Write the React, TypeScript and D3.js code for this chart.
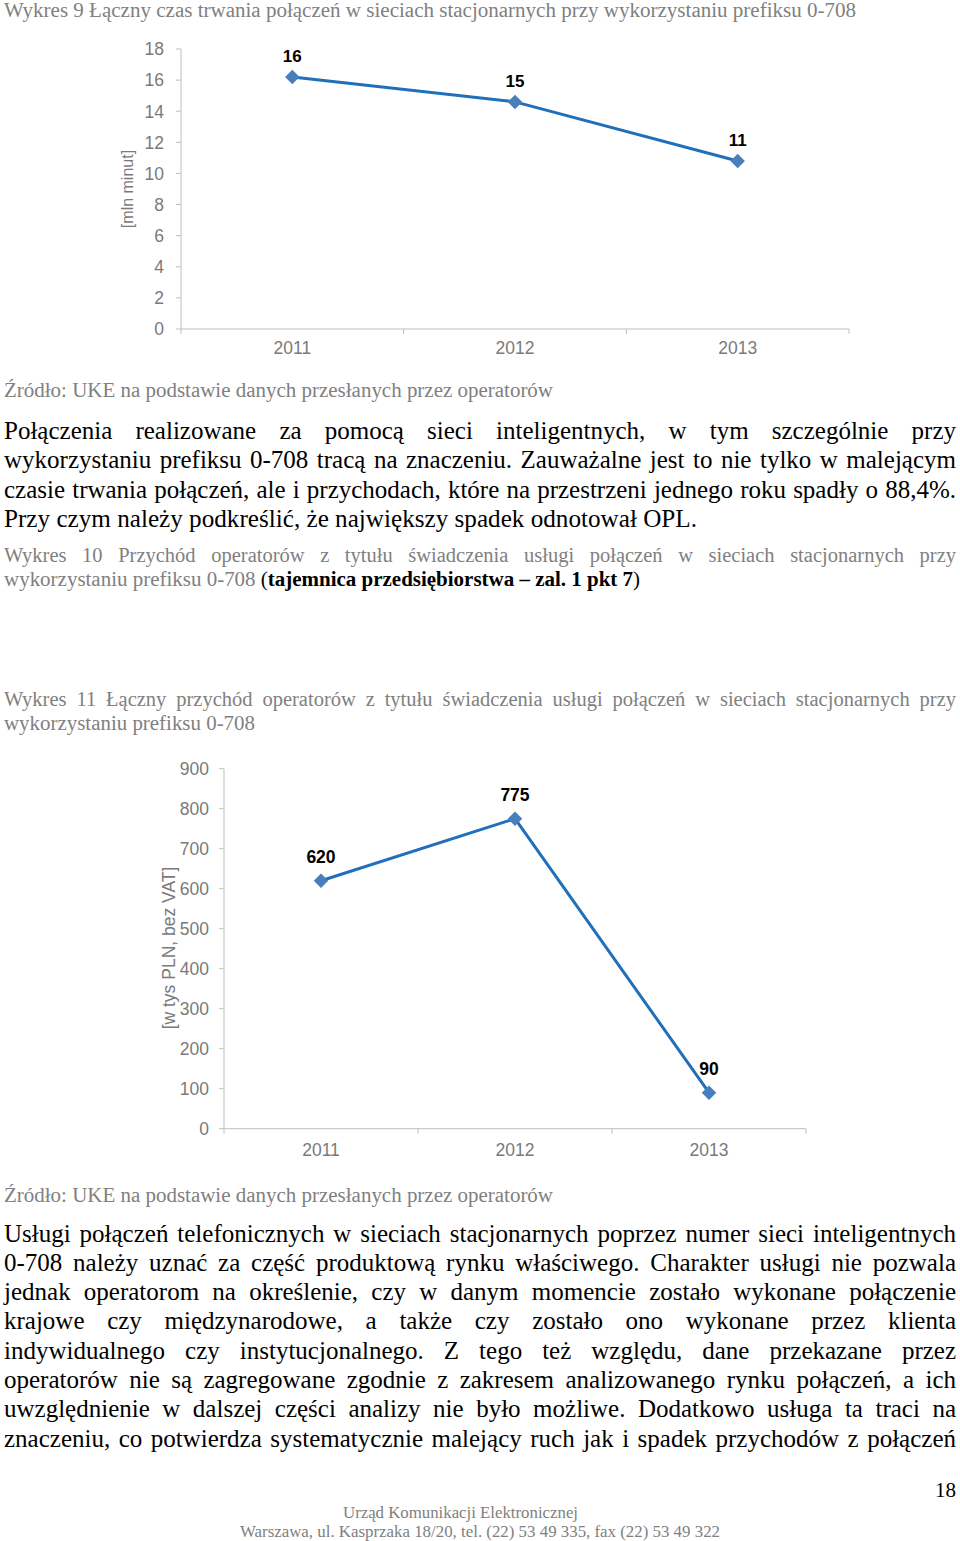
import React from 'react';
import * as d3 from 'd3';

// ---------- data ----------
const years = ['2011', '2012', '2013'];
const durationValues = [16.2, 14.6, 10.8]; // mln minut
const durationTicks = [0, 2, 4, 6, 8, 10, 12, 14, 16, 18];
const revenueValues = [620, 775, 90]; // tys PLN
const revenueTicks = [0, 100, 200, 300, 400, 500, 600, 700, 800, 900];

const caption9 = 'Wykres 9 Łączny czas trwania połączeń w sieciach stacjonarnych przy wykorzystaniu prefiksu 0-708';
const sourceText = 'Źródło: UKE na podstawie danych przesłanych przez operatorów';
const para1Lines = [
  'Połączenia realizowane za pomocą sieci inteligentnych, w tym szczególnie przy',
  'wykorzystaniu prefiksu 0-708 tracą na znaczeniu. Zauważalne jest to nie tylko w malejącym',
  'czasie trwania połączeń, ale i przychodach, które na przestrzeni jednego roku spadły o 88,4%.',
  'Przy czym należy podkreślić, że największy spadek odnotował OPL.',
];
const caption10Line1 = 'Wykres 10 Przychód operatorów z tytułu świadczenia usługi połączeń w sieciach stacjonarnych przy';
const caption10Line2 = 'wykorzystaniu prefiksu 0-708 ';
const caption10Secret = 'tajemnica przedsiębiorstwa – zal. 1 pkt 7';
const caption11Lines = [
  'Wykres 11 Łączny przychód operatorów z tytułu świadczenia usługi połączeń w sieciach stacjonarnych przy',
  'wykorzystaniu prefiksu 0-708',
];
const para2Lines = [
  'Usługi połączeń telefonicznych w sieciach stacjonarnych poprzez numer sieci inteligentnych',
  '0-708 należy uznać za część produktową rynku właściwego. Charakter usługi nie pozwala',
  'jednak operatorom na określenie, czy w danym momencie zostało wykonane połączenie',
  'krajowe czy międzynarodowe, a także czy zostało ono wykonane przez klienta',
  'indywidualnego czy instytucjonalnego. Z tego też względu, dane przekazane przez',
  'operatorów nie są zagregowane zgodnie z zakresem analizowanego rynku połączeń, a ich',
  'uwzględnienie w dalszej części analizy nie było możliwe. Dodatkowo usługa ta traci na',
  'znaczeniu, co potwierdza systematycznie malejący ruch jak i spadek przychodów z połączeń',
];
const footerLines = [
  'Urząd Komunikacji Elektronicznej',
  'Warszawa, ul. Kasprzaka 18/20, tel. (22) 53 49 335, fax (22) 53 49 322',
];
const pageNumber = '18';

// ---------- styles ----------
const SERIF = '"Liberation Serif", "Times New Roman", serif';
const SANS = '"Liberation Sans", Arial, sans-serif';
const GRAY = '#808080';
const AXIS = '#bfbfbf';
const TICK_TEXT = '#7a7a7a';
const LINE_COLOR = '#1f6fba';
const MARKER_COLOR = '#4a7ebb';

let ctx: CanvasRenderingContext2D | null = null;
function measure(text: string, font: string): number {
  if (!ctx) ctx = document.createElement('canvas').getContext('2d');
  if (!ctx) return text.length * 10;
  ctx.font = font;
  return ctx.measureText(text).width;
}

function JustifiedLine({ text, x, y, width, size, fill }: any) {
  const words = text.split(' ');
  const font = `${size}px ${SERIF}`;
  const widths = words.map((w: string) => measure(w, font));
  const total = widths.reduce((a: number, b: number) => a + b, 0);
  const gap = words.length > 1 ? (width - total) / (words.length - 1) : 0;
  let cx = x;
  const xs = widths.map((w: number) => {
    const p = cx;
    cx += w + gap;
    return p;
  });
  return (
    <text y={y} fontFamily={SERIF} fontSize={size} fill={fill}>
      {words.map((w: string, i: number) => (
        <tspan key={i} x={xs[i]}>{w}</tspan>
      ))}
    </text>
  );
}

function FitLine({ text, x, y, width, size, fill, anchor }: any) {
  return (
    <text x={x} y={y} fontFamily={SERIF} fontSize={size} fill={fill}
      textLength={width} lengthAdjust="spacingAndGlyphs" textAnchor={anchor || 'start'}>
      {text}
    </text>
  );
}

const diamond = d3.symbol().type(d3.symbolSquare).size(105)();

function LineChart({ values, ticks, xRange, yRange, yMax, tickOffset, tickFont, labelFont,
  labelOffset, yTitle, yTitlePos, yTitleSize, xLabelOffset }: any) {
  const x = d3.scaleBand<string>().domain(years).range(xRange);
  const y = d3.scaleLinear().domain([0, yMax]).range(yRange);
  const line = d3.line<number>()
    .x((_, i) => (x(years[i]) as number) + x.bandwidth() / 2)
    .y((d) => y(d));
  const fmt = d3.format('.0f');
  const x0 = xRange[0];
  const boundaries = years.map((yr) => x(yr) as number).concat([xRange[1]]);
  return (
    <g>
      {/* y axis */}
      <line x1={x0} x2={x0} y1={y(yMax)} y2={y(0)} stroke={AXIS} strokeWidth={1} />
      {ticks.map((t: number) => (
        <g key={t}>
          <line x1={x0 - 5} x2={x0} y1={y(t)} y2={y(t)} stroke={AXIS} strokeWidth={1} />
          <text x={x0 - tickOffset} y={y(t)} dy="0.36em" textAnchor="end"
            fontFamily={SANS} fontSize={tickFont} fill={TICK_TEXT}>{t}</text>
        </g>
      ))}
      {/* x axis */}
      <line x1={xRange[0]} x2={xRange[1]} y1={y(0)} y2={y(0)} stroke={AXIS} strokeWidth={1} />
      {boundaries.map((b: number, i: number) => (
        <line key={i} x1={b} x2={b} y1={y(0)} y2={y(0) + 5} stroke={AXIS} strokeWidth={1} />
      ))}
      {years.map((yr) => (
        <text key={yr} x={(x(yr) as number) + x.bandwidth() / 2} y={y(0) + xLabelOffset}
          textAnchor="middle" fontFamily={SANS} fontSize={tickFont} fill={TICK_TEXT}>{yr}</text>
      ))}
      {/* y title */}
      <text transform={`translate(${yTitlePos[0]},${yTitlePos[1]}) rotate(-90)`} textAnchor="middle"
        dy="0.35em" fontFamily={SANS} fontSize={yTitleSize} fill={TICK_TEXT}>{yTitle}</text>
      {/* series */}
      <path d={line(values) || ''} fill="none" stroke={LINE_COLOR} strokeWidth={3} strokeLinejoin="round" />
      {values.map((v: number, i: number) => {
        const cx = (x(years[i]) as number) + x.bandwidth() / 2;
        return (
          <g key={i}>
            <path d={diamond} transform={`translate(${cx},${y(v)}) rotate(45)`} fill={MARKER_COLOR} />
            <text x={cx} y={y(v) - labelOffset} textAnchor="middle" fontFamily={SANS}
              fontWeight="bold" fontSize={labelFont} fill="#000">{fmt(v)}</text>
          </g>
        );
      })}
    </g>
  );
}

export default function App() {
  const BODY = 25;
  const CAP = 20.5;
  return (
    <svg width={960} height={1541} style={{ position: 'absolute', left: 0, top: 0, background: '#fff' }}>
      <rect width={960} height={1541} fill="#fff" />
      <FitLine text={caption9} x={4} y={17} width={852} size={CAP} fill={GRAY} />

      <LineChart values={durationValues} ticks={durationTicks} xRange={[181, 849]} yRange={[329, 49]}
        yMax={18} tickOffset={17} tickFont={17.5} labelFont={17} labelOffset={15}
        yTitle="[mln minut]" yTitlePos={[127, 189]} yTitleSize={16} xLabelOffset={25} />

      <FitLine text={sourceText} x={4} y={397} width={549} size={CAP} fill={GRAY} />

      {para1Lines.map((t, i) =>
        i < para1Lines.length - 1 ? (
          <JustifiedLine key={i} text={t} x={4} y={438.5 + i * 29.6} width={952} size={BODY} fill="#000" />
        ) : (
          <FitLine key={i} text={t} x={4} y={438.5 + i * 29.6} width={693} size={BODY} fill="#000" />
        )
      )}

      <JustifiedLine text={caption10Line1} x={4} y={562} width={952} size={CAP} fill={GRAY} />
      <text x={4} y={586} fontFamily={SERIF} fontSize={CAP} fill={GRAY}
        textLength={636} lengthAdjust="spacingAndGlyphs">
        {caption10Line2}
        <tspan fill="#000">(</tspan>
        <tspan fill="#000" fontWeight="bold">{caption10Secret}</tspan>
        <tspan fill="#000">)</tspan>
      </text>

      <JustifiedLine text={caption11Lines[0]} x={4} y={706} width={952} size={CAP} fill={GRAY} />
      <FitLine text={caption11Lines[1]} x={4} y={730} width={251} size={CAP} fill={GRAY} />

      <LineChart values={revenueValues} ticks={revenueTicks} xRange={[224, 806]} yRange={[1128.7, 768.7]}
        yMax={900} tickOffset={15} tickFont={17.5} labelFont={17.5} labelOffset={18}
        yTitle="[w tys PLN, bez VAT]" yTitlePos={[169, 948]} yTitleSize={17.5} xLabelOffset={27} />

      <FitLine text={sourceText} x={4} y={1202} width={549} size={CAP} fill={GRAY} />

      {para2Lines.map((t, i) => (
        <JustifiedLine key={i} text={t} x={4} y={1241.5 + i * 29.3} width={952} size={BODY} fill="#000" />
      ))}

      <text x={956} y={1497} textAnchor="end" fontFamily={SERIF} fontSize={21} fill="#000">{pageNumber}</text>
      <FitLine text={footerLines[0]} x={343} y={1518} width={235} size={17.5} fill={GRAY} />
      <FitLine text={footerLines[1]} x={240} y={1537} width={480} size={17.5} fill={GRAY} />
    </svg>
  );
}
